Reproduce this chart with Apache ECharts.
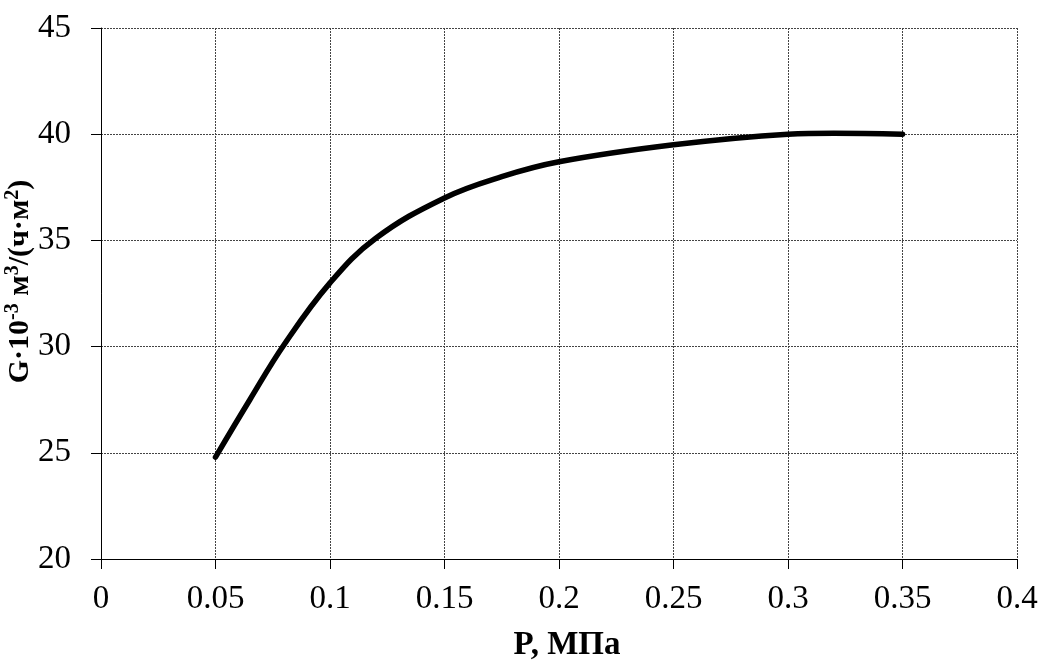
<!DOCTYPE html>
<html>
<head>
<meta charset="utf-8">
<script src="https://cdn.jsdelivr.net/npm/echarts@6/dist/echarts.min.js"></script>
<style>
  html, body { margin: 0; padding: 0; background: #fff; }
  #chart { width: 1040px; height: 664px; }
</style>
</head>
<body>
<div id="chart"></div>
<script>
// давление, МПа
const pressure = [0.05, 0.065, 0.08, 0.1, 0.12, 0.15, 0.175, 0.2, 0.25, 0.3, 0.32, 0.35];
// производительность G·10^-3
const flow = [24.8, 27.5, 30.1, 33.0, 35.1, 37.0, 38.0, 38.7, 39.5, 40.0, 40.05, 40.0];
const xTicks = [0, 0.05, 0.1, 0.15, 0.2, 0.25, 0.3, 0.35, 0.4];
const yTicks = [20, 25, 30, 35, 40, 45];

const font = '"Liberation Serif", "DejaVu Serif", serif';

const chart = echarts.init(document.getElementById('chart'));

const option = {
    backgroundColor: '#fff',
    animation: false,
    grid: { left: 101, right: 23, top: 28, bottom: 105, outerBoundsMode: 'none', containLabel: false },
    xAxis: {
        type: 'value',
        min: xTicks[0],
        max: xTicks[xTicks.length - 1],
        interval: 0.05,
        name: 'P, МПа',
        nameLocation: 'middle',
        nameGap: 70,
        nameMoveOverlap: false,
        nameTextStyle: { fontFamily: font, fontSize: 33, fontWeight: 'bold', color: '#000', padding: [0, 0, 0, 16] },
        axisLine: { lineStyle: { color: '#000', width: 1 } },
        axisTick: { show: true, length: 10, lineStyle: { color: '#000' } },
        axisLabel: {
            fontFamily: font, fontSize: 33, color: '#000', margin: 24,
            formatter: v => String(Math.round(v * 100) / 100)
        },
        splitLine: { show: true, lineStyle: { color: '#444', type: [2, 1], width: 1 } }
    },
    yAxis: {
        type: 'value',
        min: yTicks[0],
        max: yTicks[yTicks.length - 1],
        interval: 5,
        name: '{b|G·10}{sup|-3}{b| м}{sup|3}{b|/(ч·м}{sup|2}{b|)}',
        nameLocation: 'middle',
        nameGap: 64,
        nameMoveOverlap: false,
        nameTextStyle: {
            color: '#000',
            padding: [0, 0, 0, 24],
            rich: {
                b: { fontFamily: font, fontSize: 30, fontWeight: 'bold', color: '#000' },
                sup: { fontFamily: font, fontSize: 20, fontWeight: 'bold', color: '#000', padding: [0, 0, 14, 0] }
            }
        },
        axisLine: { show: true, lineStyle: { color: '#000', width: 1 } },
        axisTick: { show: true, length: 10, lineStyle: { color: '#000' } },
        axisLabel: { fontFamily: font, fontSize: 33, color: '#000', margin: 30 },
        splitLine: { show: true, lineStyle: { color: '#444', type: [2, 1], width: 1 } }
    },
    series: [{
        type: 'line',
        data: pressure.map((p, i) => [p, flow[i]]),
        smooth: 0.4,
        showSymbol: false,
        lineStyle: { color: '#000', width: 5.5, cap: 'round' }
    }]
};

chart.setOption(option);
</script>
</body>
</html>
